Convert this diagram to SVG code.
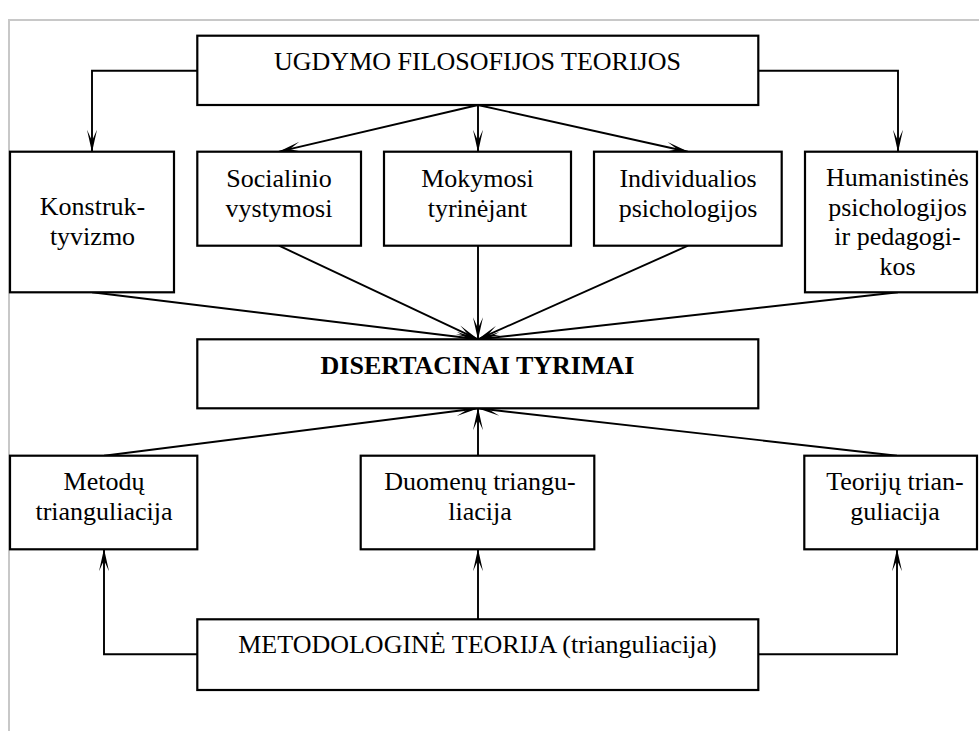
<svg xmlns="http://www.w3.org/2000/svg" width="979" height="731" viewBox="0 0 979 731">
<style>
.box{fill:#fff;stroke:#000;stroke-width:2.2}
.t{font-family:"Liberation Serif","Times New Roman",serif;font-size:26px;fill:#000;text-anchor:middle}
.b{font-weight:bold}
.c{fill:none;stroke:#000;stroke-width:1.9}
</style>
<defs>
<marker id="ah" viewBox="-23 -6 24 12" refX="0" refY="0" markerWidth="24" markerHeight="12" markerUnits="userSpaceOnUse" orient="auto">
<path d="M0.5,0 L-22,-5 L-11,0 L-22,5 Z" fill="#000"/>
</marker>
</defs>
<rect width="979" height="731" fill="#fff"/>
<path d="M9,731 V20 H979" fill="none" stroke="#c8c8c8" stroke-width="2"/>

<g id="connectors">
<path class="c" d="M197,70.7 H92 V151.7" marker-end="url(#ah)"/>
<path class="c" d="M758,70.7 H898 V151.7" marker-end="url(#ah)"/>
<path class="c" d="M478,105 L279,151.7" marker-end="url(#ah)"/>
<path class="c" d="M478,105 V151.7" marker-end="url(#ah)"/>
<path class="c" d="M478,105 L688,151.7" marker-end="url(#ah)"/>
<path class="c" d="M92,292.3 L478,339.3" marker-end="url(#ah)"/>
<path class="c" d="M279,245.7 L478,339.3" marker-end="url(#ah)"/>
<path class="c" d="M478,245.7 V339.3" marker-end="url(#ah)"/>
<path class="c" d="M688,245.7 L478,339.3" marker-end="url(#ah)"/>
<path class="c" d="M898,292.3 L478,339.3" marker-end="url(#ah)"/>
<path class="c" d="M104,455.7 L478,408.3" marker-end="url(#ah)"/>
<path class="c" d="M478,455.7 V408.3" marker-end="url(#ah)"/>
<path class="c" d="M897,455.7 L478,408.3" marker-end="url(#ah)"/>
<path class="c" d="M197.3,654.3 H104 V549.3" marker-end="url(#ah)"/>
<path class="c" d="M478,619.3 V549.3" marker-end="url(#ah)"/>
<path class="c" d="M758.3,654.3 H897 V549.3" marker-end="url(#ah)"/>
</g>

<g id="ugdymo">
<rect class="box" x="197.3" y="35.7" width="561" height="69.3"/>
<text class="t" x="477.5" y="70">UGDYMO FILOSOFIJOS TEORIJOS</text>
</g>
<g id="konstruktyvizmo">
<rect class="box" x="10" y="151.7" width="164" height="140.6"/>
<text class="t" x="92.5" y="215">Konstruk-</text>
<text class="t" x="92.5" y="245">tyvizmo</text>
</g>
<g id="socialinio">
<rect class="box" x="197.3" y="151.7" width="163.7" height="94"/>
<text class="t" x="279" y="186.5">Socialinio</text>
<text class="t" x="279" y="216.5">vystymosi</text>
</g>
<g id="mokymosi">
<rect class="box" x="384" y="151.7" width="187" height="94"/>
<text class="t" x="477.5" y="186.5">Mokymosi</text>
<text class="t" x="477.5" y="216.5">tyrinėjant</text>
</g>
<g id="individualios">
<rect class="box" x="594" y="151.7" width="187.7" height="94"/>
<text class="t" x="688" y="186.5">Individualios</text>
<text class="t" x="688" y="216.5">psichologijos</text>
</g>
<g id="humanistines">
<rect class="box" x="805" y="151.7" width="172" height="140.6"/>
<text class="t" x="897.5" y="185.7">Humanistinės</text>
<text class="t" x="897.5" y="215.5">psichologijos</text>
<text class="t" x="897.5" y="245.3">ir pedagogi-</text>
<text class="t" x="897.5" y="275">kos</text>
</g>
<g id="disertacinai">
<rect class="box" x="197.3" y="339.3" width="561" height="69"/>
<text class="t b" x="477.5" y="374">DISERTACINAI TYRIMAI</text>
</g>
<g id="metodu">
<rect class="box" x="10" y="455.7" width="187.3" height="93.6"/>
<text class="t" x="104" y="489.5">Metodų</text>
<text class="t" x="104" y="519.5">trianguliacija</text>
</g>
<g id="duomenu">
<rect class="box" x="360.7" y="455.7" width="233.6" height="93.6"/>
<text class="t" x="480" y="489.5">Duomenų triangu-</text>
<text class="t" x="480" y="519.5">liacija</text>
</g>
<g id="teoriju">
<rect class="box" x="804.3" y="455.7" width="172.7" height="93.6"/>
<text class="t" x="895" y="489.5">Teorijų trian-</text>
<text class="t" x="895" y="519.5">guliacija</text>
</g>
<g id="metodologine">
<rect class="box" x="197.3" y="619.3" width="561" height="70.7"/>
<text class="t" x="477.5" y="653.3">METODOLOGINĖ TEORIJA (trianguliacija)</text>
</g>
</svg>
